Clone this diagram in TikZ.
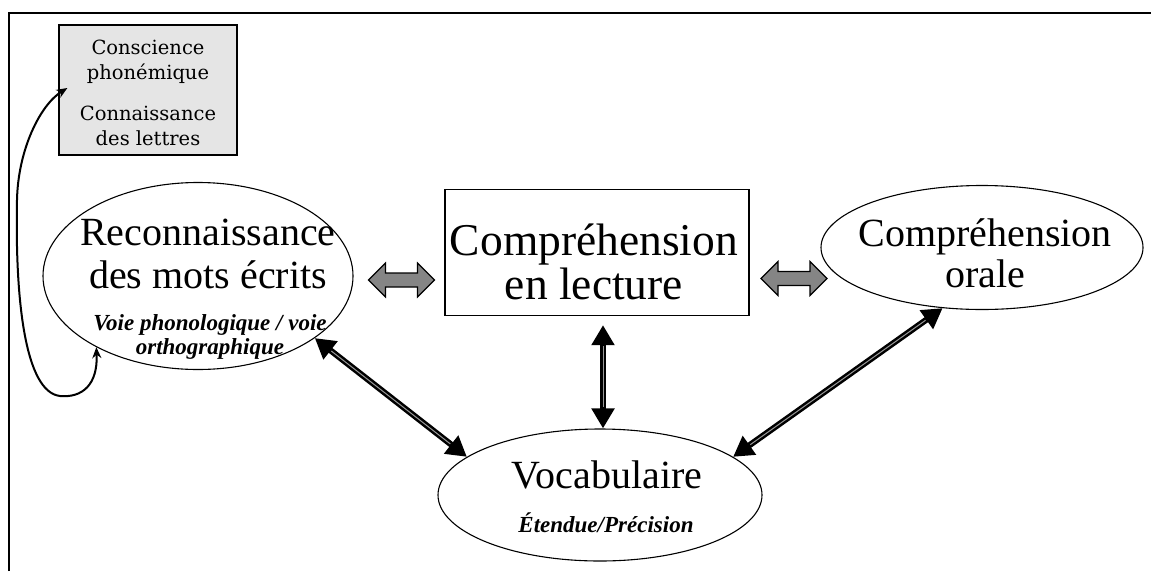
\documentclass[tikz,border=0pt]{standalone}
\usepackage{fontspec}
\setmainfont{Liberation Serif}
\newfontfamily\boxfont{DejaVu Serif}
\usetikzlibrary{arrows.meta,shapes.geometric,calc}
\tikzset{
  frame/.style={line width=2pt},
  graybox/.style={draw, line width=1.2pt, fill=black!10, minimum width=178pt, minimum height=130pt, inner sep=0pt},
  oval/.style={draw, ellipse, line width=1.1pt, inner sep=0pt},
  rectbox/.style={draw, line width=1.3pt, inner sep=0pt},
  big/.style={anchor=base, inner sep=0pt, font=\fontsize{40}{44}\selectfont},
  huge/.style={anchor=base, inner sep=0pt, font=\fontsize{45.5}{50}\selectfont},
  sub/.style={anchor=base, inner sep=0pt, font=\fontsize{23}{26}\selectfont\bfseries\itshape},
  boxtxt/.style={anchor=base, inner sep=0pt, font=\boxfont\fontsize{19.5}{22}\selectfont},
  bigarr/.style={line width=6pt, black, {Triangle[length=20pt,width=22pt]}-{Triangle[length=20pt,width=22pt]}},
  stripe/.style={line width=1pt, black!40, shorten <=21pt, shorten >=21pt},
  curvarr/.style={line width=2pt, black, {Stealth[length=11pt,width=9pt]}-{Stealth[length=11pt,width=9pt]}},
  grayarr/.pic={\filldraw[fill=black!48, draw=black, line width=1.2pt]
    (-33,0) -- (-16,17) -- (-16,7) -- (16,7) -- (16,17) -- (33,0) -- (16,-17) -- (16,-7) -- (-16,-7) -- (-16,-17) -- cycle;}
}
\begin{document}
\begin{tikzpicture}[x=1pt,y=-1pt]
\useasboundingbox (0,0) rectangle (1151,571);
\draw[frame] (9,571) -- (9,13) -- (1151,13);

% gray box
\node[graybox] (pb) at (148,90) {};
\node[boxtxt] (pb1) at (148,54) {Conscience};
\node[boxtxt] (pb2) at (148,79) {phonémique};
\node[boxtxt] (pb3) at (148,120) {Connaissance};
\node[boxtxt] (pb4) at (148,145) {des lettres};

% left ellipse
\node[oval, minimum width=310pt, minimum height=187pt] (rec) at (198,276) {};
\node[big] (rec1) at (208,245) {Reconnaissance};
\node[big] (rec2) at (208,288) {des mots écrits};
\node[sub] (rec3) at (210,330) {Voie phonologique / voie};
\node[sub] (rec4) at (210,354) {orthographique};

% center rectangle
\node[rectbox, minimum width=304pt, minimum height=126pt] (ccl) at (597,252.5) {};
\node[huge] (ccl1) at (594,255) {Compréhension};
\node[huge] (ccl2) at (594,299) {en lecture};

% right ellipse
\node[oval, minimum width=322pt, minimum height=124pt] (co) at (982,247.5) {};
\node[big] (co1) at (985,246) {Compréhension};
\node[big] (co2) at (985,287) {orale};

% bottom ellipse
\node[oval, minimum width=324pt, minimum height=132pt] (voc) at (600,495) {};
\node[big] (voc1) at (607,488) {Vocabulaire};
\node[sub] (voc2) at (606,532) {Étendue/Précision};

% gray double arrows
\pic at (401.5,280) {grayarr};
\pic at (794,278.5) {grayarr};

% black double arrows
\draw[bigarr] (rec.-28) -- (voc.164);
\draw[stripe] (rec.-28) -- (voc.164);
\draw[bigarr] ($(ccl.south)+(6,9)$) -- (voc.north -| {$(ccl.south)+(6,9)$});
\draw[stripe] ($(ccl.south)+(6,9)$) -- (voc.north -| {$(ccl.south)+(6,9)$});
\draw[bigarr] (voc.16) -- (co.-123);
\draw[stripe] (voc.16) -- (co.-123);

% curved arrow
\coordinate (pbin) at ($(pb.west)+(9,-2)$);
\draw[curvarr] (rec.215) .. controls (98,385) and (82,398) .. (60,396)
  .. controls (25,392) and (15,300) .. (17,200)
  .. controls (18,150) and (40,105) .. (pbin);
\end{tikzpicture}
\end{document}
